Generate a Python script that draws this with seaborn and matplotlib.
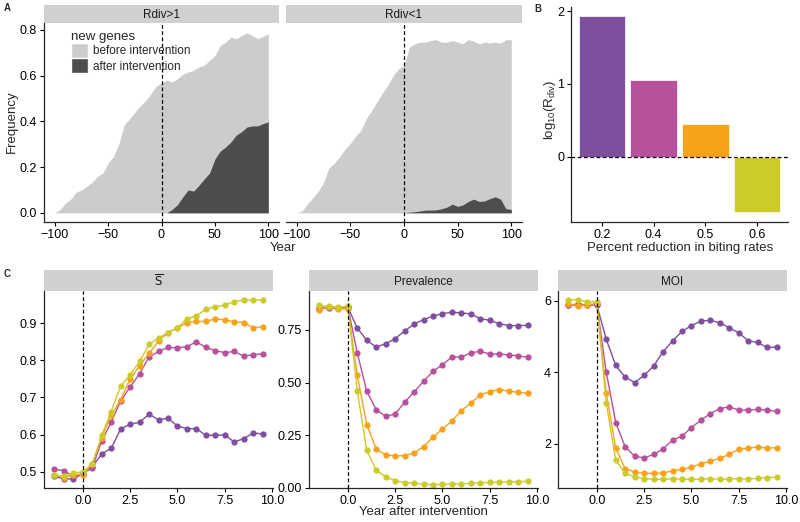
import numpy as np
import pandas as pd
import matplotlib
matplotlib.use('Agg')
import matplotlib.pyplot as plt
from matplotlib.patches import Patch
import seaborn as sns

# %% Data
# ----------------------------------------------------------------------------

# Panel A: frequency of new genes, read every 5 years
years_a = [-100, -95, -90, -85, -80, -75, -70, -65, -60, -55, -50, -45, -40,
           -35, -30, -25, -20, -15, -10, -5, 0, 5, 10, 15, 20, 25, 30, 35, 40,
           45, 50, 55, 60, 65, 70, 75, 80, 85, 90, 95, 100]
total_hi = [0.0, 0.014, 0.043, 0.06, 0.09, 0.10, 0.116, 0.133, 0.16, 0.174,
            0.217, 0.246, 0.30, 0.384, 0.41, 0.44, 0.467, 0.49, 0.52, 0.554,
            0.568, 0.58, 0.572, 0.587, 0.606, 0.616, 0.623, 0.638, 0.645,
            0.667, 0.688, 0.732, 0.746, 0.768, 0.761, 0.775, 0.787, 0.775,
            0.761, 0.771, 0.783]
after_hi = [0.0, 0.0, 0.015, 0.036, 0.07, 0.10, 0.095, 0.12, 0.148, 0.174,
            0.235, 0.27, 0.288, 0.31, 0.34, 0.355, 0.375, 0.38, 0.38, 0.39,
            0.398]
total_lo = [0.0, 0.007, 0.04, 0.065, 0.094, 0.133, 0.196, 0.217, 0.246, 0.278,
            0.304, 0.336, 0.362, 0.413, 0.449, 0.486, 0.525, 0.558, 0.601,
            0.63, 0.645, 0.725, 0.739, 0.746, 0.746, 0.754, 0.757, 0.746,
            0.746, 0.754, 0.746, 0.739, 0.757, 0.751, 0.739, 0.746, 0.742,
            0.746, 0.742, 0.757, 0.757]
after_lo = [0.0, 0.003, 0.005, 0.008, 0.012, 0.012, 0.013, 0.018, 0.025,
            0.038, 0.028, 0.035, 0.05, 0.06, 0.05, 0.052, 0.062, 0.07, 0.06,
            0.018, 0.015]

# Panel B
reduction = ['0.2', '0.4', '0.5', '0.6']
log_rdiv = [1.93, 1.05, 0.45, -0.76]

# Panel C
years_c = [-1.5, -1.0, -0.5, 0.0, 0.5, 1.0, 1.5, 2.0, 2.5, 3.0, 3.5, 4.0,
           4.5, 5.0, 5.5, 6.0, 6.5, 7.0, 7.5, 8.0, 8.5, 9.0, 9.5]

sbar_02 = [0.487, 0.481, 0.480, 0.495, 0.513, 0.548, 0.563, 0.615, 0.628,
           0.633, 0.655, 0.640, 0.644, 0.623, 0.616, 0.616, 0.598, 0.598,
           0.599, 0.580, 0.589, 0.604, 0.602]
sbar_04 = [0.506, 0.503, 0.487, 0.496, 0.510, 0.583, 0.633, 0.691, 0.728,
           0.764, 0.809, 0.824, 0.835, 0.834, 0.837, 0.850, 0.835, 0.826,
           0.821, 0.824, 0.812, 0.815, 0.818]
sbar_05 = [0.492, 0.483, 0.492, 0.492, 0.522, 0.592, 0.652, 0.694, 0.750,
           0.785, 0.819, 0.852, 0.875, 0.887, 0.902, 0.905, 0.905, 0.912,
           0.909, 0.904, 0.902, 0.888, 0.891]
sbar_06 = [0.492, 0.487, 0.496, 0.500, 0.521, 0.598, 0.662, 0.731, 0.761,
           0.797, 0.843, 0.860, 0.875, 0.888, 0.912, 0.920, 0.938, 0.945,
           0.949, 0.958, 0.963, 0.963, 0.963]

prev_02 = [0.851, 0.854, 0.854, 0.858, 0.759, 0.701, 0.669, 0.685, 0.709,
           0.745, 0.778, 0.799, 0.815, 0.828, 0.834, 0.831, 0.826, 0.804,
           0.796, 0.780, 0.771, 0.771, 0.772]
prev_04 = [0.854, 0.859, 0.853, 0.859, 0.641, 0.459, 0.372, 0.340, 0.351,
           0.407, 0.456, 0.506, 0.554, 0.585, 0.622, 0.622, 0.641, 0.649,
           0.636, 0.636, 0.631, 0.628, 0.620]
prev_05 = [0.847, 0.859, 0.851, 0.851, 0.535, 0.301, 0.185, 0.157, 0.153,
           0.153, 0.166, 0.196, 0.241, 0.280, 0.318, 0.367, 0.403, 0.443,
           0.457, 0.467, 0.460, 0.454, 0.449]
prev_06 = [0.867, 0.862, 0.858, 0.862, 0.462, 0.179, 0.085, 0.054, 0.035,
           0.025, 0.024, 0.017, 0.016, 0.017, 0.019, 0.019, 0.022, 0.024,
           0.027, 0.027, 0.030, 0.030, 0.032]

moi_02 = [5.88, 5.88, 5.88, 5.88, 4.92, 4.19, 3.86, 3.71, 3.91, 4.17, 4.57,
          4.87, 5.14, 5.30, 5.43, 5.45, 5.38, 5.24, 5.10, 4.88, 4.83, 4.69,
          4.70]
moi_04 = [5.88, 5.90, 5.88, 5.90, 4.00, 2.59, 1.91, 1.65, 1.60, 1.70, 1.85,
          2.10, 2.21, 2.45, 2.66, 2.84, 2.98, 3.03, 2.94, 2.94, 2.96, 2.94,
          2.90]
moi_05 = [5.91, 5.86, 5.88, 5.93, 3.41, 1.87, 1.30, 1.21, 1.17, 1.17, 1.18,
          1.24, 1.28, 1.34, 1.44, 1.51, 1.59, 1.70, 1.85, 1.87, 1.91, 1.87,
          1.89]
moi_06 = [6.02, 6.03, 5.97, 5.97, 3.13, 1.54, 1.17, 1.07, 1.02, 1.00, 1.00,
          1.02, 1.01, 1.00, 1.01, 1.02, 1.01, 1.01, 1.02, 1.01, 1.03, 1.05,
          1.06]

colors = ['#7E4F9F', '#B8519B', '#F8A21C', '#CBCB2A']
light = '#CCCCCC'
dark = '#4D4D4D'
strip_col = '#D0D0D0'

# %% Style
# ----------------------------------------------------------------------------
sns.set_theme(style='ticks')
plt.rcParams['font.family'] = ['Liberation Sans', 'DejaVu Sans']
plt.rcParams['axes.linewidth'] = 0.9
plt.rcParams['xtick.major.size'] = 3
plt.rcParams['ytick.major.size'] = 3
plt.rcParams['xtick.labelsize'] = 9
plt.rcParams['ytick.labelsize'] = 9
plt.rcParams['xtick.major.pad'] = 2
plt.rcParams['ytick.major.pad'] = 2

W, H = 800, 522
fig = plt.figure(figsize=(8, 5.22), dpi=100)


def px_axes(x0, y0, x1, y1):
    return fig.add_axes([x0 / W, 1 - y1 / H, (x1 - x0) / W, (y1 - y0) / H])


def strip(x0, y0, x1, y1, label):
    s = px_axes(x0, y0, x1, y1)
    s.set_facecolor(strip_col)
    for sp in s.spines.values():
        sp.set_visible(False)
    s.set_xticks([])
    s.set_yticks([])
    s.text(0.5, 0.45, label, ha='center', va='center', fontsize=8.5,
           color='#1a1a1a', transform=s.transAxes)


def clean(ax):
    sns.despine(ax=ax)
    ax.tick_params(colors='black', labelcolor='black', width=0.8)
    ax.set_xlabel('')
    ax.set_ylabel('')


# %% Panel A
# ----------------------------------------------------------------------------
panels_a = [(44, 279, total_hi, after_hi, 'Rdiv>1'),
            (286, 522, total_lo, after_lo, 'Rdiv<1')]
after_years = [y for y in years_a if y >= 0]
for k, (x0, x1, tot, aft, lab) in enumerate(panels_a):
    ax = px_axes(x0, 23, x1, 222)
    ax.fill_between(years_a, 0, tot, color=light, linewidth=0)
    ax.fill_between(after_years, 0, aft, color=dark, linewidth=0)
    ax.axvline(0, color='black', linestyle=(0, (3, 2)), linewidth=0.9)
    ax.set_xlim(-110, 110)
    ax.set_ylim(-0.04, 0.83)
    ax.set_xticks([-100, -50, 0, 50, 100])
    ax.set_yticks([0.0, 0.2, 0.4, 0.6, 0.8])
    clean(ax)
    if k == 1:
        ax.spines['left'].set_visible(False)
        ax.tick_params(axis='y', left=False, labelleft=False)
    else:
        handles = [Patch(facecolor=light, label='before intervention'),
                   Patch(facecolor=dark, label='after intervention')]
        ax.legend(handles=handles, title='new genes', loc='upper left',
                  bbox_to_anchor=(0.09, 0.99), frameon=False, fontsize=8.5,
                  title_fontsize=9.5, handlelength=1.45, handleheight=1.6,
                  labelspacing=0.0, handletextpad=0.45, borderpad=0,
                  alignment='left')
    strip(x0, 5, x1, 23, lab)

fig.text(283 / W, 1 - 248 / H, 'Year', ha='center', va='center', fontsize=9.5)
fig.text(12 / W, 1 - 122 / H, 'Frequency', ha='center', va='center',
         fontsize=9.5, rotation=90)

# %% Panel B
# ----------------------------------------------------------------------------
axb = px_axes(571, 7, 788, 222)
bar_df = pd.DataFrame({'reduction': reduction, 'log_rdiv': log_rdiv})
sns.barplot(data=bar_df, x='reduction', y='log_rdiv', hue='reduction',
            palette=colors, width=0.9, saturation=1, edgecolor='white',
            linewidth=0.5, legend=False, ax=axb)
axb.axhline(0, color='black', linestyle=(0, (3, 2)), linewidth=0.9)
axb.set_xlim(-0.6, 3.6)
axb.set_ylim(-0.9, 2.06)
axb.set_yticks([0, 1, 2])
clean(axb)
fig.text(680 / W, 1 - 248 / H, 'Percent reduction in biting rates',
         ha='center', va='center', fontsize=9.5)
fig.text(550 / W, 1 - 110 / H, r'$\mathregular{log_{10}(R_{div})}$',
         ha='center', va='center', fontsize=9.5, rotation=90)

# %% Panel C
# ----------------------------------------------------------------------------
series_c = {
    'sbar': [sbar_02, sbar_04, sbar_05, sbar_06],
    'prev': [prev_02, prev_04, prev_05, prev_06],
    'moi': [moi_02, moi_04, moi_05, moi_06],
}
rows = []
for metric, lists in series_c.items():
    for red, vals in zip(reduction, lists):
        for yr, v in zip(years_c, vals):
            rows.append({'metric': metric, 'reduction': red, 'year': yr,
                         'value': v})
long_c = pd.DataFrame(rows)

panels_c = [(44, 273, 'sbar', r'$\overline{\mathrm{S}}$', (0.456, 0.987),
             [0.5, 0.6, 0.7, 0.8, 0.9], None),
            (309, 538, 'prev', 'Prevalence', (0.0, 0.935),
             [0.0, 0.25, 0.5, 0.75], '{:.2f}'),
            (558, 787, 'moi', 'MOI', (0.76, 6.27), [2, 4, 6], None)]
for x0, x1, metric, lab, ylim, yt, fmt in panels_c:
    ax = px_axes(x0, 291, x1, 488)
    sub = long_c[long_c['metric'] == metric]
    sns.lineplot(data=sub, x='year', y='value', hue='reduction',
                 palette=colors, marker='o', markersize=4.5,
                 markeredgewidth=0, linewidth=1, legend=False, ax=ax)
    ax.axvline(0, color='black', linestyle=(0, (3, 2)), linewidth=0.9)
    ax.set_xlim(-2.05, 10.05)
    ax.set_ylim(*ylim)
    ax.set_xticks([0.0, 2.5, 5.0, 7.5, 10.0])
    ax.set_xticklabels(['0.0', '2.5', '5.0', '7.5', '10.0'])
    ax.set_yticks(yt)
    if fmt:
        ax.set_yticklabels([fmt.format(v) for v in yt])
    clean(ax)
    strip(x0, 270, x1, 291, lab)

fig.text(423 / W, 1 - 512 / H, 'Year after intervention', ha='center',
         va='center', fontsize=9.5)

# Panel letters
fig.text(4 / W, 1 - 8 / H, 'A', fontsize=7, fontweight='bold', va='center')
fig.text(534 / W, 1 - 9 / H, 'B', fontsize=7, fontweight='bold', va='center')
fig.text(4 / W, 1 - 274 / H, 'C', fontsize=7, fontweight='bold', va='center')

fig.savefig('out.png', dpi=100)
